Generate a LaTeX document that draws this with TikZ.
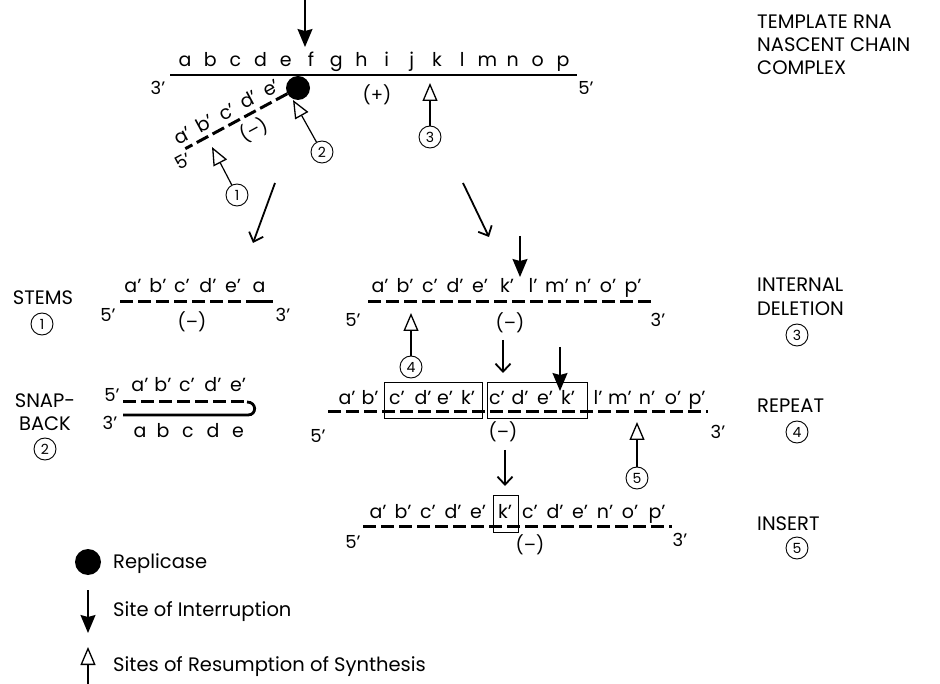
\documentclass[tikz,border=0pt]{standalone}
\usepackage{fontspec}
\setmainfont{Poppins}
\usepackage{tikz}
\usetikzlibrary{arrows.meta, calc}

\begin{document}
\begin{tikzpicture}[x=1pt, y=-1pt,
  seq/.style={font=\fontsize{19}{19}\selectfont, anchor=base, inner sep=0pt},
  endlbl/.style={font=\fontsize{18}{18}\selectfont, inner sep=0pt},
  caption/.style={font=\fontsize{19.5}{19.5}\selectfont, anchor=base west, inner sep=0pt},
  num/.style={circle, draw, line width=0.9pt, minimum size=22pt, inner sep=0pt, font=\fontsize{14}{14}\selectfont},
  strand/.style={line width=2.8pt},
  nascent/.style={line width=3pt, dash pattern=on 13pt off 5pt},
  stop/.style={line width=1.4pt, -{Stealth[length=18pt,width=15pt,inset=2pt]}},
  resume/.style={line width=1.2pt, -{Triangle[open,length=18pt,width=15pt,line width=1.3pt]}},
  go/.style={line width=1.8pt, -{Straight Barb[length=8pt,width=15pt]}},
  framebox/.style={draw, line width=0.9pt}]
  \useasboundingbox (0,0) rectangle (940,684);

  % template RNA with nascent chain
  \draw[strand] (170,75) -- (577,75);
  \foreach \t [count=\i from 0] in {a,b,...,p}
    \node[seq] at (185+25.2*\i,67) {\t};
  \node[endlbl] (t3) at (158,88) {3’};
  \node[endlbl] (t5) at (586,88) {5’};
  \node[endlbl] (tplus) at (377,95) {(+)};
  \node[circle, fill, minimum size=24pt, inner sep=0pt] (rep) at (298,88) {};
  \begin{scope}[shift={(rep.center)}, rotate=28.3, transform shape]
    \draw[nascent] (-12,0) -- (-128,0);
    \foreach \t/\x in {a/-124, b/-99, c/-74, d/-49, e/-24}
      \node[seq] at (\x,-6) {\t’};
    \node[endlbl] (n5) at (-136,10) {5’};
    \node[endlbl] (nminus) at (-59,16) {(–)};
  \end{scope}
  \coordinate (cut0) at (305,0);
  \coordinate (cut0tip) at (305,47);
  \draw[stop] (cut0) -- (cut0tip);
  \node[num] (r1) at (237,195) {1};
  \coordinate (r1tip) at (212,147);
  \draw[resume] (r1) -- (r1tip);
  \node[num] (r2) at (322,152) {2};
  \coordinate (r2tip) at (293,100);
  \draw[resume] (r2) -- (r2tip);
  \node[num] (r3) at (430,137) {3};
  \coordinate (r3tip) at (430,83);
  \draw[resume] (r3) -- (r3tip);
  \node[caption] (cap0a) at (757,29) {TEMPLATE RNA};
  \node[caption] (cap0b) at (757,52) {NASCENT CHAIN};
  \node[caption] (cap0c) at (757,75) {COMPLEX};

  % branches
  \coordinate (gl0) at (275,183);
  \coordinate (gl1) at (253,243);
  \draw[go] (gl0) -- (gl1);
  \coordinate (gr0) at (463,183);
  \coordinate (gr1) at (489,237);
  \draw[go] (gr0) -- (gr1);

  % stems
  \node[caption, anchor=base] (cap1) at (43,305) {STEMS};
  \node[num] (c1) at (42,324) {1};
  \draw[nascent] (120,302) -- (247,302);
  \draw[line width=3pt] (247,302) -- (273,302);
  \foreach \t/\x in {a’/133, b’/158, c’/182, d’/208, e’/233, a/259}
    \node[seq] at (\x,293) {\t};
  \node[endlbl] (s5) at (108,315) {5’};
  \node[endlbl] (s3) at (283,315) {3’};
  \node[endlbl] (sminus) at (192,322) {(–)};

  % snap-back
  \node[caption, anchor=base] (cap2a) at (45,408) {SNAP-};
  \node[caption, anchor=base] (cap2b) at (45,431) {BACK};
  \node[num] (c2) at (45,449) {2};
  \draw[nascent] (123,402) -- (244,402);
  \draw[strand] (123,415) -- (248,415) .. controls (257,415) and (257,402) .. (247,402);
  \foreach \t/\x in {a/140, b/163, c/187, d/213, e/238}
    \node[seq] at (\x,392) {\t’};
  \foreach \t/\x in {a/140, b/163, c/188, d/213, e/238}
    \node[seq] at (\x,438) {\t};
  \node[endlbl] (b5) at (112,395) {5’};
  \node[endlbl] (b3) at (110,423) {3’};

  % internal deletion
  \draw[nascent] (368,302) -- (655,302);
  \foreach \t/\x in {a/380, b/405, c/430, d/455, e/480, k/507, l/533, m/557, n/583, o/608, p/633}
    \node[seq] at (\x,293) {\t’};
  \node[endlbl] (d5) at (353,320) {5’};
  \node[endlbl] (d3) at (658,320) {3’};
  \node[endlbl] (dminus) at (510,323) {(–)};
  \coordinate (cut1) at (520,236);
  \coordinate (cut1tip) at (520,277);
  \draw[stop] (cut1) -- (cut1tip);
  \node[num] (r4) at (411,367) {4};
  \coordinate (r4tip) at (411,313);
  \draw[resume] (r4) -- (r4tip);
  \node[caption] (cap3a) at (757,292) {INTERNAL};
  \node[caption] (cap3b) at (757,316) {DELETION};
  \node[num] (c3) at (797,335) {3};

  % repeat
  \coordinate (g1a) at (503,340);
  \coordinate (g1b) at (503,373);
  \draw[go] (g1a) -- (g1b);
  \draw[nascent] (328,412) -- (708,412);
  \draw[framebox] (384,382) rectangle (482,418);
  \draw[framebox] (487,382) rectangle (587,418);
  \foreach \t/\x in {a/347, b/370, c/397, d/423, e/445, k/468, c/497, d/520, e/545, k/568, l/598, m/620, n/647, o/673, p/697}
    \node[seq] at (\x,405) {\t’};
  \coordinate (cut2) at (560,347);
  \coordinate (cut2tip) at (560,391);
  \draw[stop] (cut2) -- (cut2tip);
  \node[endlbl] (p5) at (318,436) {5’};
  \node[endlbl] (p3) at (718,432) {3’};
  \node[endlbl] (pminus) at (503,432) {(–)};
  \node[num] (r5) at (637,478) {5};
  \coordinate (r5tip) at (637,422);
  \draw[resume] (r5) -- (r5tip);
  \node[caption] (cap4) at (757,413) {REPEAT};
  \node[num] (c4) at (797,432) {4};

  % insert
  \coordinate (g2a) at (505,450);
  \coordinate (g2b) at (505,486);
  \draw[go] (g2a) -- (g2b);
  \draw[nascent] (363,526) -- (672,526);
  \draw[framebox] (493,495) rectangle (518,532);
  \foreach \t/\x in {a/378, b/403, c/428, d/453, e/478, k/505, c/530, d/555, e/580, n/605, o/630, p/657}
    \node[seq] at (\x,518) {\t’};
  \node[endlbl] (i5) at (353,542) {5’};
  \node[endlbl] (i3) at (680,540) {3’};
  \node[endlbl] (iminus) at (530,545) {(–)};
  \node[caption] (cap5) at (757,530) {INSERT};
  \node[num] (c5) at (797,548) {5};

  % legend
  \node[circle, fill, minimum size=26pt, inner sep=0pt] (lrep) at (88,562) {};
  \node[caption] (l1) at (113,568) {Replicase};
  \coordinate (lcut) at (88,590);
  \coordinate (lcuttip) at (88,633);
  \draw[stop] (lcut) -- (lcuttip);
  \node[caption] (l2) at (113,616) {Site of Interruption};
  \coordinate (lres) at (88,684);
  \coordinate (lrestip) at (88,647);
  \draw[resume] (lres) -- (lrestip);
  \node[caption] (l3) at (113,671) {Sites of Resumption of Synthesis};
\end{tikzpicture}
\end{document}
